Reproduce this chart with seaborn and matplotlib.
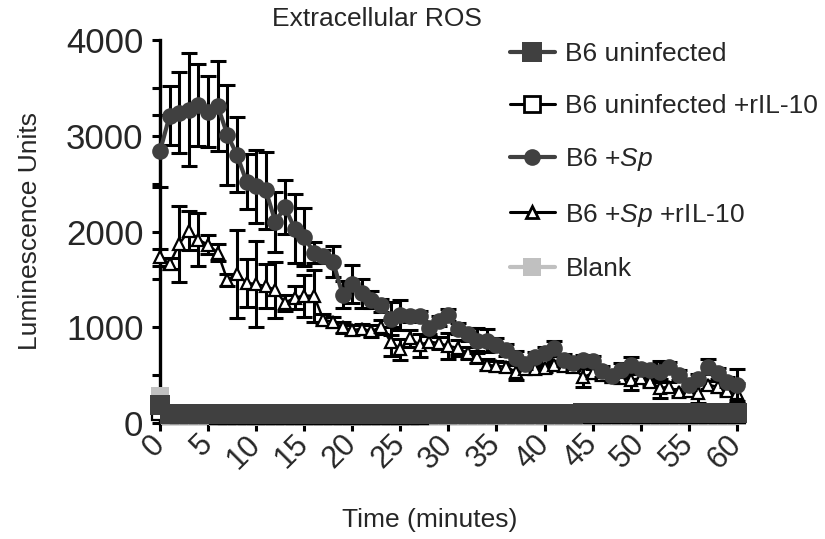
import matplotlib
matplotlib.use("Agg")
import matplotlib.pyplot as plt
from matplotlib.lines import Line2D
from matplotlib.ticker import MultipleLocator
import seaborn as sns

minutes = list(range(61))
x_ticks = [0, 5, 10, 15, 20, 25, 30, 35, 40, 45, 50, 55, 60]
y_ticks = [0, 1000, 2000, 3000, 4000]

# B6 +Sp
sp_mean = [2840, 3210, 3240, 3270, 3320, 3250, 3310, 3010, 2800, 2520,
           2470, 2430, 2100, 2255, 2030, 1945, 1780, 1740, 1685, 1340,
           1450, 1355, 1290, 1230, 1090, 1130, 1115, 1118, 995, 1065,
           1130, 985, 925, 860, 860, 820, 765, 680, 615, 690,
           730, 780, 660, 625, 660, 645, 540, 490, 555, 605,
           570, 555, 535, 590, 500, 400, 465, 590, 520, 430,
           400]
sp_sem = [380, 310, 420, 590, 430, 370, 470, 520, 390, 290,
          380, 400, 310, 280, 360, 300, 110, 70, 160, 140,
          200, 150, 90, 70, 170, 160, 60, 50, 60, 50,
          60, 60, 70, 130, 120, 70, 60, 70, 50, 50,
          60, 80, 60, 60, 50, 60, 60, 60, 70, 90,
          50, 60, 110, 50, 50, 50, 50, 75, 60, 50,
          170]

# B6 +Sp +rIL-10
sp_il10_mean = [1730, 1665, 1870, 2010, 1915, 1860, 1780, 1495, 1555, 1465,
                1450, 1430, 1390, 1255, 1310, 1330, 1330, 1080, 1055, 1000,
                970, 985, 960, 1005, 850, 770, 885, 815, 850, 835,
                805, 785, 730, 690, 610, 595, 590, 535, 560, 560,
                575, 610, 595, 590, 480, 520, 500, 480, 470, 450,
                470, 430, 365, 380, 320, 340, 310, 400, 380, 330,
                310]
sp_il10_sem = [90, 60, 400, 200, 280, 100, 90, 60, 460, 250,
               450, 230, 290, 80, 120, 220, 270, 60, 50, 60,
               50, 50, 60, 70, 150, 110, 90, 120, 60, 60,
               140, 80, 60, 60, 60, 50, 50, 80, 40, 40,
               40, 40, 40, 40, 100, 50, 40, 40, 40, 100,
               40, 40, 100, 50, 40, 40, 100, 40, 60, 40,
               105]

# B6 uninfected
uninf_mean = [188, 100, 98, 96, 95, 95, 94, 94, 93, 93,
              92, 92, 92, 91, 91, 91, 90, 90, 90, 90,
              91, 91, 92, 92, 93, 93, 94, 94, 95, 95,
              96, 96, 97, 97, 97, 98, 98, 98, 99, 99,
              100, 100, 100, 100, 101, 101, 101, 102, 102, 102,
              102, 103, 103, 103, 103, 104, 104, 104, 104, 105,
              105]

# B6 uninfected +rIL-10
uninf_il10_mean = [120, 85, 82, 80, 80, 80, 79, 79, 79, 78,
                   78, 78, 78, 78, 77, 77, 77, 77, 77, 77,
                   78, 78, 78, 78, 79, 79, 79, 79, 80, 80,
                   80, 80, 81, 81, 81, 81, 82, 82, 82, 82,
                   83, 83, 83, 83, 84, 84, 84, 84, 85, 85,
                   85, 85, 86, 86, 86, 86, 87, 87, 87, 87,
                   88]

# Blank
blank_mean = [285, 75, 72, 70, 70, 70, 69, 69, 69, 68,
              68, 68, 68, 68, 67, 67, 67, 67, 67, 67,
              68, 68, 68, 68, 69, 69, 69, 69, 70, 70,
              70, 70, 71, 71, 71, 71, 72, 72, 72, 72,
              73, 73, 73, 73, 74, 74, 74, 74, 75, 75,
              75, 75, 76, 76, 76, 76, 77, 77, 77, 77,
              78]

dark = "#404040"
light = "#c0c0c0"

sns.set_style("ticks")
plt.rcParams["font.family"] = ["Liberation Sans", "DejaVu Sans"]
plt.rcParams["mathtext.fontset"] = "custom"
plt.rcParams["mathtext.rm"] = "Liberation Sans"
plt.rcParams["mathtext.it"] = "Liberation Sans:italic"

fig = plt.figure(figsize=(8.25, 5.39), dpi=100)
ax = fig.add_axes([0.194, 0.215, 0.699, 0.711])


def error_bars(mean, sem, z):
    cont = ax.errorbar(minutes, mean, yerr=sem, fmt="none", ecolor="black",
                       elinewidth=2.2, capsize=5.5, capthick=2.2, zorder=z)
    for art in cont.get_children():
        art.set_clip_on(False)


# triangles (drawn first, sit under the circles)
error_bars(sp_il10_mean, sp_il10_sem, 3)
sns.lineplot(x=minutes, y=sp_il10_mean, ax=ax, color="black", linewidth=1.8,
             marker="^", markersize=8, markerfacecolor="white",
             markeredgecolor="black", markeredgewidth=1.6,
             zorder=4, clip_on=False)

# circles
error_bars(sp_mean, sp_sem, 5)
sns.lineplot(x=minutes, y=sp_mean, ax=ax, color=dark, linewidth=3,
             marker="o", markersize=12, markeredgewidth=0,
             zorder=6, clip_on=False)

# bottom band
sns.lineplot(x=minutes, y=blank_mean, ax=ax, color=light, linewidth=3,
             marker="s", markersize=13, markeredgewidth=0,
             zorder=7, clip_on=False)
sns.lineplot(x=minutes, y=uninf_il10_mean, ax=ax, color="black", linewidth=2,
             marker="s", markersize=11, markerfacecolor="white",
             markeredgecolor="black", markeredgewidth=1.6,
             zorder=8, clip_on=False)
sns.lineplot(x=minutes, y=uninf_mean, ax=ax, color=dark, linewidth=3,
             marker="s", markersize=14, markeredgewidth=0,
             zorder=9, clip_on=False)

ax.set_xlim(0, 60)
ax.set_ylim(0, 4000)
ax.set_xticks(x_ticks)
ax.set_xticklabels([str(v) for v in x_ticks], rotation=45, ha="right",
                   va="center", rotation_mode="anchor")
ax.set_yticks(y_ticks)
ax.set_yticklabels([str(v) for v in y_ticks])
ax.yaxis.set_minor_locator(MultipleLocator(500))
ax.tick_params(axis="y", which="both", length=6, width=2.2, color="black",
               labelsize=25, pad=6)
ax.tick_params(axis="x", length=6, width=2.2, color="black", labelsize=22,
               pad=6)
ax.set_xlabel("")
ax.set_ylabel("")
sns.despine(ax=ax)
for side in ["left", "bottom"]:
    ax.spines[side].set_linewidth(2.4)
    ax.spines[side].set_color("black")

fig.text(377 / 825, 1 - 19 / 539, "Extracellular ROS", fontsize=19,
         ha="center", va="center")
fig.text(30 / 825, 1 - 231 / 539, "Luminescence Units", fontsize=19,
         rotation=90, ha="center", va="center")
fig.text(430 / 825, 1 - 520 / 539, "Time (minutes)", fontsize=19,
         ha="center", va="center")

handles = [
    Line2D([], [], color=dark, linewidth=3, marker="s", markersize=14,
           markeredgewidth=0),
    Line2D([], [], color="black", linewidth=2.2, marker="s", markersize=11,
           markerfacecolor="white", markeredgecolor="black",
           markeredgewidth=2),
    Line2D([], [], color=dark, linewidth=3, marker="o", markersize=12,
           markeredgewidth=0),
    Line2D([], [], color="black", linewidth=2.2, marker="^", markersize=8,
           markerfacecolor="white", markeredgecolor="black",
           markeredgewidth=2),
    Line2D([], [], color=light, linewidth=3, marker="s", markersize=13,
           markeredgewidth=0),
]
labels = ["B6 uninfected", "B6 uninfected +rIL-10", r"B6 +$\it{Sp}$",
          r"B6 +$\it{Sp}$ +rIL-10", "Blank"]
fig.legend(handles, labels, loc="upper left",
           bbox_to_anchor=(510 / 825, 1 - 42 / 539), frameon=False,
           fontsize=19, handlelength=1.7, handletextpad=0.4,
           labelspacing=1.07, borderpad=0, borderaxespad=0)

fig.savefig("out.png", dpi=100)
